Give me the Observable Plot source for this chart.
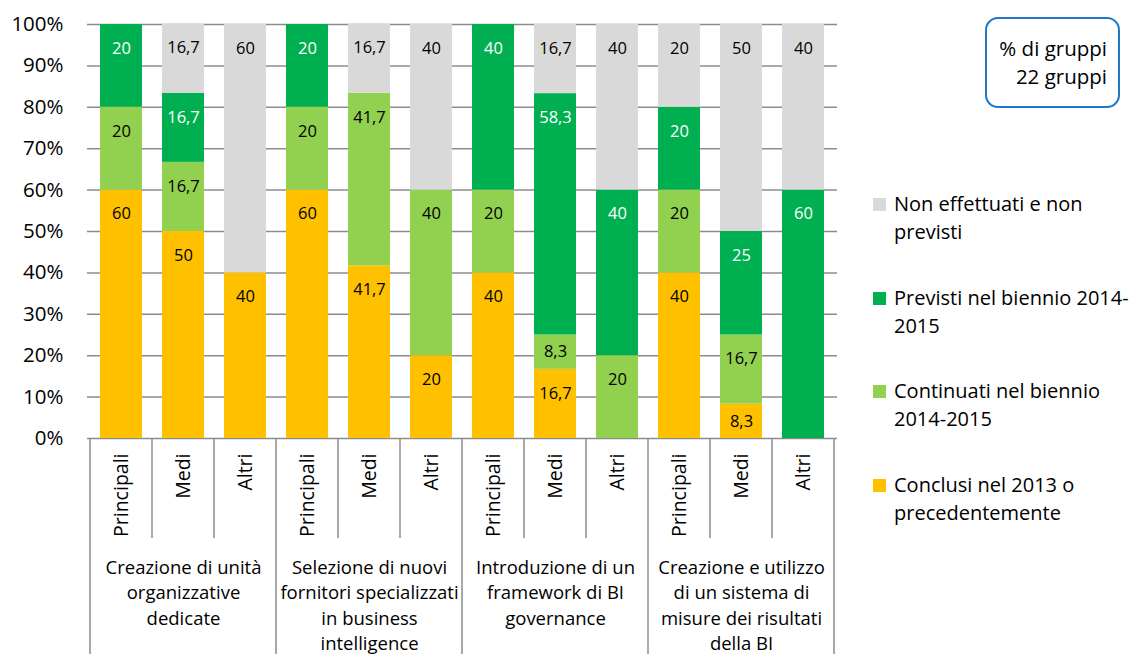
<!DOCTYPE html>
<html><head><meta charset="utf-8">
<script src="https://cdn.jsdelivr.net/npm/d3@7"></script>
<script src="https://cdn.jsdelivr.net/npm/@observablehq/plot@0.6"></script>
<style>
body{margin:0;background:#fff;}
#wrap{position:relative;width:1141px;height:654px;overflow:hidden;font-family:"Open Sans",Lato,sans-serif;color:#000;}
#wrap svg{position:absolute;left:0;top:0;}
.leg{position:absolute;left:873px;font-size:20px;line-height:28px;}
.leg .sw{position:absolute;left:0;top:8px;width:13px;height:13px;}
.leg .tx{position:absolute;left:21px;top:0;white-space:nowrap;}
#box{position:absolute;left:985px;top:17px;border:2px solid #1f77c8;border-radius:13px;text-align:right;font-size:20.5px;line-height:28px;}
#box div{padding-right:11px;}
</style></head><body><div id="wrap"></div>
<script>
// ---- data ----
const groups = [
  "Creazione di unità\norganizzative\ndedicate",
  "Selezione di nuovi\nfornitori specializzati\nin business\nintelligence",
  "Introduzione di un\nframework di BI\ngovernance",
  "Creazione e utilizzo\ndi un sistema di\nmisure dei risultati\ndella BI"
];
const subgroups = ["Principali", "Medi", "Altri"];
const series = ["Conclusi nel 2013 o precedentemente", "Continuati nel biennio 2014-2015", "Previsti nel biennio 2014-2015", "Non effettuati e non previsti"];
const legendLabels = ["Non effettuati e non\nprevisti", "Previsti nel biennio 2014-\n2015", "Continuati nel biennio\n2014-2015", "Conclusi nel 2013 o\nprecedentemente"];
const colors = ["#ffc000", "#92d050", "#00b050", "#d9d9d9"];
const conclusi      = [60, 50, 40,   60, 41.7, 20,   40, 16.7, 0,    40, 8.3, 0];
const continuati    = [20, 16.7, 0,  20, 41.7, 40,   20, 8.3, 20,    20, 16.7, 0];
const previsti      = [20, 16.7, 0,  20, 0, 0,       40, 58.3, 40,   20, 25, 60];
const nonEffettuati = [0, 16.7, 60,  0, 16.7, 40,    0, 16.7, 40,    20, 50, 40];
const yTicks = [0, 10, 20, 30, 40, 50, 60, 70, 80, 90, 100];
const boxLines = ["% di gruppi", "22 gruppi"];

// ---- build table ----
const keys = [];
groups.forEach((g, gi) => subgroups.forEach(s => keys.push(gi + "|" + s)));
const seriesValues = [conclusi, continuati, previsti, nonEffettuati];
const rows = [];
keys.forEach((k, i) => series.forEach((s, si) => rows.push({key: k, series: s, si, value: seriesValues[si][i]})));
const fmt = v => String(v).replace(".", ",");
const FONT = '"Open Sans", Lato, sans-serif';

function labelMark(isBig, white) {
  const pred = d => d.value > 0 && ((d.value >= 12) === isBig) && ((d.si === 2) === white);
  const opts = {x: "key", y: "value", text: d => pred(d) ? fmt(d.value) : "", fill: white ? "#fff" : "#000", fontSize: 16.5, dy: isBig ? 24 : 0};
  return Plot.text(rows, isBig ? Plot.stackY2(opts) : Plot.stackY(opts));
}

const plot = Plot.plot({
  width: 1141, height: 654,
  marginLeft: 87, marginRight: 304, marginTop: 24, marginBottom: 216,
  style: {fontFamily: FONT, fontSize: "18px", color: "#000", background: "transparent", overflow: "visible"},
  x: {domain: keys, paddingInner: 0.33, paddingOuter: 0.165, label: null},
  y: {domain: [0, 100], label: null},
  color: {domain: series, range: colors},
  marks: [
    Plot.ruleY(yTicks, {stroke: "#8c8c8c", strokeWidth: 1.5}),
    Plot.barY(rows, {x: "key", y: "value", fill: "series"}),
    labelMark(true, true), labelMark(true, false), labelMark(false, true), labelMark(false, false),
    Plot.axisY({ticks: yTicks, tickFormat: d => d + "%", tickSize: 0, tickPadding: 24, fontSize: 20.5, label: null}),
    Plot.axisX({tickSize: 0, tickPadding: 15, tickRotate: -90, tickFormat: k => k.split("|")[1], fontSize: 19.5, label: null}),
    Plot.text(groups, {x: (g, i) => keys[i * 3 + 1], text: g => g, frameAnchor: "bottom", dy: 117, lineAnchor: "top", lineHeight: 1.38, fontSize: 18.5})
  ]
});

const wrap = document.getElementById("wrap");
wrap.appendChild(plot);

// category separators derived from the x scale
const xs = plot.scale("x");
const half = (xs.step - xs.bandwidth) / 2;
const y0 = plot.scale("y").apply(0);
const svg = d3.select(plot);
const edges = keys.map(k => xs.apply(k) - half);
edges.push(edges[edges.length - 1] + xs.step);
edges.forEach((e, i) => {
  svg.append("line").attr("x1", e).attr("x2", e).attr("y1", y0).attr("y2", i % 3 === 0 ? 654 : y0 + 100)
    .attr("stroke", "#8c8c8c").attr("stroke-width", 1.5);
});

// legend
const legendOrder = [3, 2, 1, 0];
legendOrder.forEach((si, j) => {
  const d = document.createElement("div");
  d.className = "leg";
  d.style.top = (190 + j * 93.5) + "px";
  d.innerHTML = `<div class="sw" style="background:${colors[si]}"></div><div class="tx">${legendLabels[j].replace("\n", "<br>")}</div>`;
  wrap.appendChild(d);
});
// note box
const box = document.createElement("div");
box.id = "box";
box.innerHTML = boxLines.map(l => `<div>${l}</div>`).join("");
box.style.paddingTop = "15px";
box.style.boxSizing = "border-box";
box.style.height = "91px"; box.style.width = "135px";
wrap.appendChild(box);
</script>
</body></html>
